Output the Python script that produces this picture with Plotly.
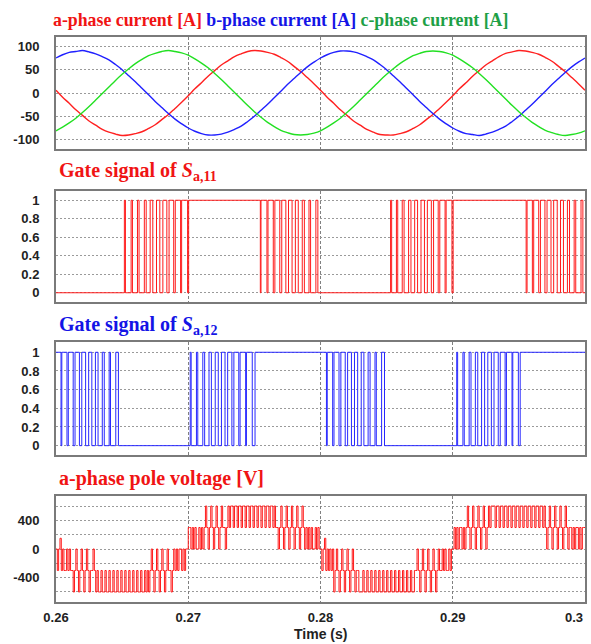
import plotly.graph_objects as go

T0, T1 = 0.26, 0.30

# ---------------- phase currents [A] (sampled every 0.5 ms) ----------------
ia = [6, -9, -22, -36, -48, -60, -69, -78, -84, -88, -91, -90, -87, -83, -76, -68, -57, -46, -33, -20,
      -6, 9, 22, 36, 48, 60, 69, 78, 84, 89, 91, 90, 87, 83, 76, 68, 57, 46, 33, 20,
      6, -9, -22, -36, -48, -60, -69, -78, -84, -89, -90, -90, -87, -83, -76, -68, -57, -46, -33, -20,
      -6, 9, 22, 36, 48, 60, 69, 78, 85, 88, 91, 90, 87, 83, 76, 68, 57, 46, 33, 20,
      6]
ib = [75, 82, 87, 89, 91, 88, 84, 78, 71, 61, 50, 37, 24, 10, -4, -18, -31, -44, -56, -66,
      -75, -82, -87, -90, -90, -88, -84, -78, -71, -61, -50, -37, -24, -10, 4, 18, 31, 44, 56, 66,
      75, 82, 87, 90, 90, 88, 84, 78, 71, 61, 50, 37, 24, 10, -4, -18, -31, -44, -56, -66,
      -75, -82, -87, -89, -91, -88, -84, -78, -71, -61, -50, -37, -24, -10, 4, 18, 31, 44, 56, 66,
      75]
ic = [-81, -73, -64, -54, -42, -29, -15, -1, 13, 27, 40, 52, 63, 72, 80, 85, 89, 91, 89, 86,
      81, 73, 64, 54, 42, 29, 15, 1, -13, -27, -40, -52, -63, -72, -80, -85, -89, -90, -89, -86,
      -81, -73, -64, -54, -42, -29, -15, -1, 13, 27, 40, 52, 63, 72, 80, 85, 89, 90, 89, 86,
      81, 73, 64, 54, 42, 29, 15, 1, -13, -27, -40, -52, -63, -72, -80, -85, -89, -91, -89, -86,
      -81]
t_cur = [round(T0 + 0.0005 * k, 5) for k in range(len(ia))]

# ---------------- gate signals: intervals where the signal is 1 [s] ----------------
sa11_on = [
    (0.26517, 0.26525), (0.26568, 0.26578), (0.26616, 0.26628), (0.26668, 0.26682), (0.26712, 0.26732),
    (0.26760, 0.26785), (0.26808, 0.26838), (0.26855, 0.26890), (0.26902, 0.26942), (0.26950, 0.26995),
    (0.27003, 0.27545),
    (0.27550, 0.27595), (0.27603, 0.27643), (0.27655, 0.27692), (0.27707, 0.27738), (0.27758, 0.27785),
    (0.27810, 0.27832), (0.27862, 0.27878), (0.27913, 0.27925), (0.27965, 0.27980),
    (0.28530, 0.28538), (0.28574, 0.28584), (0.28618, 0.28632), (0.28666, 0.28684), (0.28712, 0.28734),
    (0.28760, 0.28786), (0.28808, 0.28838), (0.28855, 0.28890), (0.28902, 0.28942), (0.28950, 0.28994),
    (0.29003, 0.29555),
    (0.29562, 0.29602), (0.29612, 0.29650), (0.29663, 0.29697), (0.29713, 0.29743), (0.29763, 0.29790),
    (0.29815, 0.29837), (0.29867, 0.29883), (0.29918, 0.29930), (0.29970, 0.29984),
]
sa12_on = [
    (0.26000, 0.26038), (0.26044, 0.26083), (0.26093, 0.26130), (0.26144, 0.26177), (0.26195, 0.26224),
    (0.26247, 0.26271), (0.26298, 0.26318), (0.26350, 0.26365), (0.26402, 0.26412), (0.26452, 0.26472),
    (0.27015, 0.27022), (0.27062, 0.27072), (0.27110, 0.27124), (0.27157, 0.27175), (0.27204, 0.27227),
    (0.27251, 0.27278), (0.27298, 0.27330), (0.27345, 0.27382), (0.27392, 0.27434), (0.27440, 0.27484),
    (0.27505, 0.28045),
    (0.28051, 0.28092), (0.28102, 0.28140), (0.28154, 0.28187), (0.28205, 0.28234), (0.28257, 0.28281),
    (0.28308, 0.28328), (0.28360, 0.28375), (0.28412, 0.28422), (0.28462, 0.28484),
    (0.29030, 0.29037), (0.29077, 0.29087), (0.29124, 0.29138), (0.29171, 0.29189), (0.29218, 0.29241),
    (0.29265, 0.29292), (0.29312, 0.29344), (0.29359, 0.29396), (0.29406, 0.29448), (0.29454, 0.29496),
    (0.29510, 0.30000),
]

# ---------------- a-phase pole voltage [V] (sampled every 0.1 ms) ----------------
v_pole = [
    # 0.26 - 0.27
    0, -300, 0, 150, -300, 0, -300, -300, 0, -300, 0, -300,
    -300, -600, -300, 0, -300, -600, -300, 0, -300, -600, -300, 0, -300, -600, -300, -300, 0, -300,
    -600, -300,
    -600, -600, -300, -600, -600, -300, -600, -600, -300, -600, -600, -300,
    -600, -600, -300, -600, -600, -300, -600, -600, -300, -600, -600, -300,
    -600, -600, -300, -600, -600, -300, -600, -600, -300, -600, -600, -300,
    -600, -300, -600,
    -300, 0, -300, -600, -300, 0, -300, -600, -300, 0, -300, -600, -300, 0, -300, -300, -600, -300, 0, -300, 0,
    -300, 0, 0, -300, 0, -300, 0, 0,
    # 0.27 - 0.28
    300, 300, 0, 300, 0, 300, 0, 0, 300, 0, 300, 0, 300,
    600, 300, 0, 300, 600, 300, 0, 300, 600, 300, 0, 300, 600, 300, 300, 0, 300, 600, 300,
    600, 600, 300, 600, 600, 300, 600, 600, 300, 600, 600, 300,
    600, 600, 300, 600, 600, 300, 600, 600, 300, 600, 600, 300,
    600, 600, 300, 600, 600, 300, 600, 600, 300,
    600, 300,
    300, 0, 300, 600, 300, 0, 300, 600, 300, 0, 300, 600, 300, 0, 300, 600, 300, 0, 300, 600, 300, 0,
    300, 0, 300, 0, 300, 0, 0, 300, 0, 300, 0,
    # 0.28 - 0.29
    0, -300, 0, 150, -300, 0, -300, 0, -300, 0,
    -600, -300, 0, -300, -600, -300, 0, -300, -600, -300, 0, -300, -600, -300, 0, -300, -600, -300, -300, -600,
    -600, -600, -300, -600, -600, -300, -600, -600, -300, -600, -600, -300,
    -600, -600, -300, -600, -600, -300, -600, -600, -300, -600, -600, -300,
    -600, -600, -300, -600, -600, -300, -600, -600, -300, -600, -600, -300,
    -600, -600, -300, -600, -600, -300,
    -300, 0, -300, -600, -300, 0, -300, -600, -300, 0, -300, -600, -300, 0, -300, -600, -300, 0, -300, -300,
    0, -300, 0, -300, -300, 0, -300, 0,
    # 0.29 - 0.30
    0, 300, 0, 300, 0, 300, 300, 0, 300, 0,
    300, 600, 300, 0, 300, 600, 300, 0, 300, 600, 300, 0, 300, 600, 300, 0, 300, 600, 300, 600,
    600, 600, 300, 600, 600, 300, 600, 600, 300, 600, 600, 300,
    600, 600, 300, 600, 600, 300, 600, 600, 300, 600, 600, 300,
    600, 600, 300, 600, 600, 300, 600, 600, 300, 600, 600, 300,
    600, 600, 300, 600,
    300, 0, 300, 600, 300, 0, 300, 600, 300, 0, 300, 600, 300, 0, 300, 600, 300, 0, 300, 300,
    0, 300, 0, 300, 300, 0, 300, 0, 300, 300,
    300,
]
t_v = [round(T0 + 0.0001 * i, 5) for i in range(len(v_pole))]

x_ticks = [0.26, 0.27, 0.28, 0.29, 0.30]
x_ticktext = ["0.26", "0.27", "0.28", "0.29", "0.3"]


def step_xy(on_list):
    xs, ys = [T0], [0 if on_list[0][0] > T0 else 1]
    for s, e in on_list:
        if s > T0:
            xs += [s, s]
            ys += [0, 1]
        if e < T1:
            xs += [e, e]
            ys += [1, 0]
        else:
            xs.append(T1)
            ys.append(1)
    if xs[-1] < T1:
        xs.append(T1)
        ys.append(ys[-1])
    return xs, ys


fig = go.Figure()
fig.add_trace(go.Scatter(x=t_cur, y=ia, mode="lines", line=dict(color="#ff2020", width=1.4, shape="spline"),
                         xaxis="x", yaxis="y"))
fig.add_trace(go.Scatter(x=t_cur, y=ib, mode="lines", line=dict(color="#2020ff", width=1.4, shape="spline"),
                         xaxis="x", yaxis="y"))
fig.add_trace(go.Scatter(x=t_cur, y=ic, mode="lines", line=dict(color="#22e022", width=1.4, shape="spline"),
                         xaxis="x", yaxis="y"))
x11, y11 = step_xy(sa11_on)
fig.add_trace(go.Scatter(x=x11, y=y11, mode="lines", line=dict(color="#ff1a1a", width=1),
                         xaxis="x2", yaxis="y2"))
x12, y12 = step_xy(sa12_on)
fig.add_trace(go.Scatter(x=x12, y=y12, mode="lines", line=dict(color="#2828ff", width=1),
                         xaxis="x3", yaxis="y3"))
fig.add_trace(go.Scatter(x=t_v, y=v_pole, mode="lines", line=dict(color="#ff1a1a", width=1, shape="hv"),
                         xaxis="x4", yaxis="y4"))

W, H = 591, 644
xdom = [56 / W, 585 / W]
tickfont = dict(family="Liberation Sans, Arial, sans-serif", size=13, color="#222", weight="bold")
frame = dict(showline=True, mirror=True, linecolor="#7a7a7a", linewidth=2, zeroline=False, automargin=False)


def xax(show_labels):
    return dict(domain=xdom, range=[T0, T1], tickvals=x_ticks[:-1], ticktext=x_ticktext[:-1],
                showticklabels=show_labels, showgrid=True, gridcolor="#808080", gridwidth=1,
                griddash="3px,2px", ticks="outside", ticklen=2, tickcolor="rgba(0,0,0,0)",
                tickfont=tickfont, **frame)


def yax(dom, rng, tv, tt, minor=None):
    d = dict(domain=[1 - dom[1] / H, 1 - dom[0] / H], range=rng, tickvals=tv, ticktext=tt,
             showgrid=True, gridcolor="#9a9a9a", gridwidth=1, griddash="2px,2px",
             ticks="outside", ticklen=12, tickcolor="rgba(0,0,0,0)", tickfont=tickfont, **frame)
    if minor:
        d["minor"] = minor
    return d


fig.update_layout(
    width=W, height=H, margin=dict(l=0, r=0, t=0, b=0, autoexpand=False),
    paper_bgcolor="white", plot_bgcolor="white", showlegend=False,
    xaxis=dict(xax(False), anchor="y"),
    xaxis2=dict(xax(False), anchor="y2", matches="x"),
    xaxis3=dict(xax(False), anchor="y3", matches="x"),
    xaxis4=dict(xax(True), anchor="y4", matches="x"),
    yaxis=dict(yax((37, 149), [-120, 120], [-100, -50, 0, 50, 100], ["-100", "-50", "0", "50", "100"]),
               anchor="x"),
    yaxis2=dict(yax((191, 302), [-0.1, 1.1], [0, 0.2, 0.4, 0.6, 0.8, 1], ["0", "0.2", "0.4", "0.6", "0.8", "1"]),
                anchor="x2"),
    yaxis3=dict(yax((342, 455), [-0.1, 1.11], [0, 0.2, 0.4, 0.6, 0.8, 1], ["0", "0.2", "0.4", "0.6", "0.8", "1"]),
                anchor="x3"),
    yaxis4=dict(yax((496, 602), [-740, 740], [-400, 0, 400], ["-400", "0", "400"],
                    minor=dict(tickvals=[-600, -200, 200, 600], showgrid=True, gridcolor="#9a9a9a",
                               gridwidth=1, griddash="2px,2px", ticks="")),
                anchor="x4"),
)

# last x tick label sits flush with the right edge of the frame
fig.add_annotation(
    x=x_ticks[-1], y=1 - 617 / H, xref="x4", yref="paper", xanchor="right", yanchor="middle", showarrow=False,
    text=x_ticktext[-1], font=tickfont)

serif = "Liberation Serif, Times New Roman, serif"
fig.add_annotation(
    x=51 / W, y=1 - 20 / H, xref="paper", yref="paper", xanchor="left", yanchor="middle", showarrow=False,
    text="<b><span style='color:#f01414'>a-phase current [A]</span> "
         "<span style='color:#1414e6'>b-phase current [A]</span> "
         "<span style='color:#1ea046'>c-phase current [A]</span></b>",
    font=dict(family=serif, size=17.8))
fig.add_annotation(
    x=57 / W, y=1 - 172 / H, xref="paper", yref="paper", xanchor="left", yanchor="middle", showarrow=False,
    text="<b>Gate signal of <i>S</i><sub>a,11</sub></b>", font=dict(family=serif, size=20, color="#f01414"))
fig.add_annotation(
    x=57 / W, y=1 - 325 / H, xref="paper", yref="paper", xanchor="left", yanchor="middle", showarrow=False,
    text="<b>Gate signal of <i>S</i><sub>a,12</sub></b>", font=dict(family=serif, size=20, color="#1414e6"))
fig.add_annotation(
    x=57 / W, y=1 - 478 / H, xref="paper", yref="paper", xanchor="left", yanchor="middle", showarrow=False,
    text="<b>a-phase pole voltage [V]</b>", font=dict(family=serif, size=20, color="#f01414"))
fig.add_annotation(
    x=320 / W, y=1 - 634 / H, xref="paper", yref="paper", xanchor="center", yanchor="middle", showarrow=False,
    text="<b>Time (s)</b>", font=dict(family="Liberation Sans, Arial, sans-serif", size=14, color="#222"))

fig.write_html("out.html", config={"displayModeBar": False},
               post_script="document.body.style.margin='0';document.body.style.padding='0';"
                           "document.documentElement.style.overflow='hidden';")
